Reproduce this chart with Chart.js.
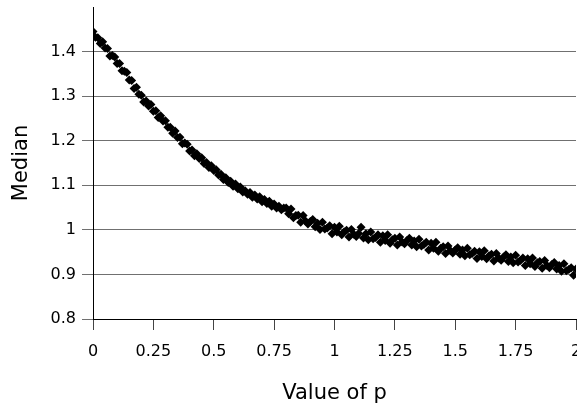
<!DOCTYPE html>
<html>
<head>
<meta charset="utf-8">
<script src="https://cdn.jsdelivr.net/npm/chart.js@4"></script>
<style>
  html, body { margin: 0; padding: 0; background: #fff; overflow: hidden; }
  canvas { display: block; }
</style>
</head>
<body>
<canvas id="medianChart" width="577" height="409"></canvas>
<script>
// p values (x) and medians (y)
const pValues = [
  0, 0.01, 0.02, 0.03, 0.04, 0.05, 0.06, 0.07, 0.08, 0.09,
  0.1, 0.11, 0.12, 0.13, 0.14, 0.15, 0.16, 0.17, 0.18, 0.19,
  0.2, 0.21, 0.22, 0.23, 0.24, 0.25, 0.26, 0.27, 0.28, 0.29,
  0.3, 0.31, 0.32, 0.33, 0.34, 0.35, 0.36, 0.37, 0.38, 0.39,
  0.4, 0.41, 0.42, 0.43, 0.44, 0.45, 0.46, 0.47, 0.48, 0.49,
  0.5, 0.51, 0.52, 0.53, 0.54, 0.55, 0.56, 0.57, 0.58, 0.59,
  0.6, 0.61, 0.62, 0.63, 0.64, 0.65, 0.66, 0.67, 0.68, 0.69,
  0.7, 0.71, 0.72, 0.73, 0.74, 0.75, 0.76, 0.77, 0.78, 0.79,
  0.8, 0.81, 0.82, 0.83, 0.84, 0.85, 0.86, 0.87, 0.88, 0.89,
  0.9, 0.91, 0.92, 0.93, 0.94, 0.95, 0.96, 0.97, 0.98, 0.99,
  1, 1.01, 1.02, 1.03, 1.04, 1.05, 1.06, 1.07, 1.08, 1.09,
  1.1, 1.11, 1.12, 1.13, 1.14, 1.15, 1.16, 1.17, 1.18, 1.19,
  1.2, 1.21, 1.22, 1.23, 1.24, 1.25, 1.26, 1.27, 1.28, 1.29,
  1.3, 1.31, 1.32, 1.33, 1.34, 1.35, 1.36, 1.37, 1.38, 1.39,
  1.4, 1.41, 1.42, 1.43, 1.44, 1.45, 1.46, 1.47, 1.48, 1.49,
  1.5, 1.51, 1.52, 1.53, 1.54, 1.55, 1.56, 1.57, 1.58, 1.59,
  1.6, 1.61, 1.62, 1.63, 1.64, 1.65, 1.66, 1.67, 1.68, 1.69,
  1.7, 1.71, 1.72, 1.73, 1.74, 1.75, 1.76, 1.77, 1.78, 1.79,
  1.8, 1.81, 1.82, 1.83, 1.84, 1.85, 1.86, 1.87, 1.88, 1.89,
  1.9, 1.91, 1.92, 1.93, 1.94, 1.95, 1.96, 1.97, 1.98, 1.99,
  2
];

const medians = [
  1.445, 1.432, 1.431, 1.418, 1.422, 1.408, 1.407, 1.390, 1.391, 1.388,
  1.373, 1.373, 1.357, 1.356, 1.353, 1.336, 1.335, 1.317, 1.320, 1.304,
  1.302, 1.287, 1.289, 1.278, 1.281, 1.266, 1.267, 1.252, 1.256, 1.244,
  1.245, 1.230, 1.230, 1.217, 1.222, 1.207, 1.208, 1.193, 1.195, 1.192,
  1.177, 1.179, 1.166, 1.171, 1.160, 1.162, 1.149, 1.151, 1.140, 1.144,
  1.133, 1.135, 1.123, 1.125, 1.113, 1.117, 1.106, 1.109, 1.098, 1.103,
  1.092, 1.096, 1.085, 1.088, 1.080, 1.084, 1.073, 1.078, 1.069, 1.074,
  1.063, 1.068, 1.059, 1.064, 1.053, 1.058, 1.049, 1.053, 1.045, 1.049,
  1.049, 1.036, 1.047, 1.027, 1.032, 1.033, 1.017, 1.032, 1.020, 1.013,
  1.019, 1.023, 1.007, 1.015, 1.001, 1.017, 1.002, 1.004, 1.009, 0.991,
  1.006, 0.995, 1.008, 0.989, 0.996, 0.999, 0.984, 1.001, 0.990, 0.985,
  0.992, 1.006, 0.982, 0.991, 0.978, 0.995, 0.980, 0.983, 0.989, 0.972,
  0.987, 0.976, 0.989, 0.970, 0.978, 0.981, 0.966, 0.984, 0.973, 0.969,
  0.976, 0.981, 0.966, 0.975, 0.962, 0.979, 0.964, 0.967, 0.972, 0.955,
  0.970, 0.959, 0.972, 0.952, 0.959, 0.962, 0.947, 0.964, 0.953, 0.948,
  0.955, 0.960, 0.945, 0.955, 0.942, 0.959, 0.944, 0.947, 0.952, 0.936,
  0.951, 0.940, 0.953, 0.935, 0.942, 0.945, 0.930, 0.947, 0.937, 0.932,
  0.939, 0.944, 0.929, 0.939, 0.926, 0.943, 0.928, 0.931, 0.937, 0.920,
  0.935, 0.924, 0.937, 0.918, 0.926, 0.929, 0.914, 0.931, 0.920, 0.915,
  0.922, 0.927, 0.912, 0.920, 0.907, 0.924, 0.908, 0.911, 0.915, 0.898,
  0.912
];

const xTicks = [0, 0.25, 0.5, 0.75, 1, 1.25, 1.5, 1.75, 2];
const yTicks = [0.8, 0.9, 1, 1.1, 1.2, 1.3, 1.4];

const FONT = "'DejaVu Sans', Arial, sans-serif";
const GRID_GREY = '#707070';

const points = pValues.map((p, i) => ({ x: p, y: medians[i] }));

const ctx = document.getElementById('medianChart').getContext('2d');
new Chart(ctx, {
    type: 'scatter',
    data: {
        datasets: [{
            label: 'Median',
            data: points,
            pointStyle: 'rectRot',
            pointRadius: 4.5,
            pointBackgroundColor: '#000',
            pointBorderColor: '#000',
            pointBorderWidth: 0
        }]
    },
    options: {
        responsive: false,
        animation: false,
        layout: { autoPadding: false, padding: { top: 7, right: 1, left: 0, bottom: 0 } },
        plugins: {
            legend: { display: false },
            tooltip: { enabled: false }
        },
        scales: {
            x: {
                type: 'linear',
                min: 0,
                max: 2,
                afterBuildTicks: (scale) => {
                    scale.ticks = xTicks.map(v => ({ value: v }));
                },
                afterFit: (scale) => {
                    scale.height = 90;
                    scale.paddingLeft = 0;
                    scale.paddingRight = 0;
                },
                ticks: {
                    color: '#000',
                    font: { family: FONT, size: 16 },
                    padding: 12,
                    maxRotation: 0,
                    autoSkip: false,
                    callback: (v) => String(v)
                },
                grid: {
                    drawOnChartArea: false,
                    color: '#444',
                    tickLength: 11
                },
                border: { color: '#000', width: 1 },
                title: {
                    display: true,
                    text: 'Value of p',
                    color: '#000',
                    font: { family: FONT, size: 21 },
                    padding: { top: 0, bottom: 3 }
                }
            },
            y: {
                type: 'linear',
                min: 0.8,
                max: 1.5,
                afterBuildTicks: (scale) => {
                    scale.ticks = yTicks.concat([1.5]).map(v => ({ value: v }));
                },
                afterFit: (scale) => {
                    scale.width = 93;
                    scale.paddingTop = 0;
                    scale.paddingBottom = 0;
                },
                ticks: {
                    color: '#000',
                    font: { family: FONT, size: 16 },
                    padding: 6,
                    callback: (v) => (v > 1.45 ? '' : String(Math.round(v * 10) / 10))
                },
                grid: {
                    color: (c) => (c.tick && c.tick.value > 1.45 ? 'rgba(0,0,0,0)' : GRID_GREY),
                    tickLength: 11
                },
                border: { color: '#000', width: 1 },
                title: {
                    display: true,
                    text: 'Median',
                    color: '#000',
                    font: { family: FONT, size: 21 },
                    padding: { top: 9, bottom: 0 }
                }
            }
        }
    }
});
</script>
</body>
</html>
